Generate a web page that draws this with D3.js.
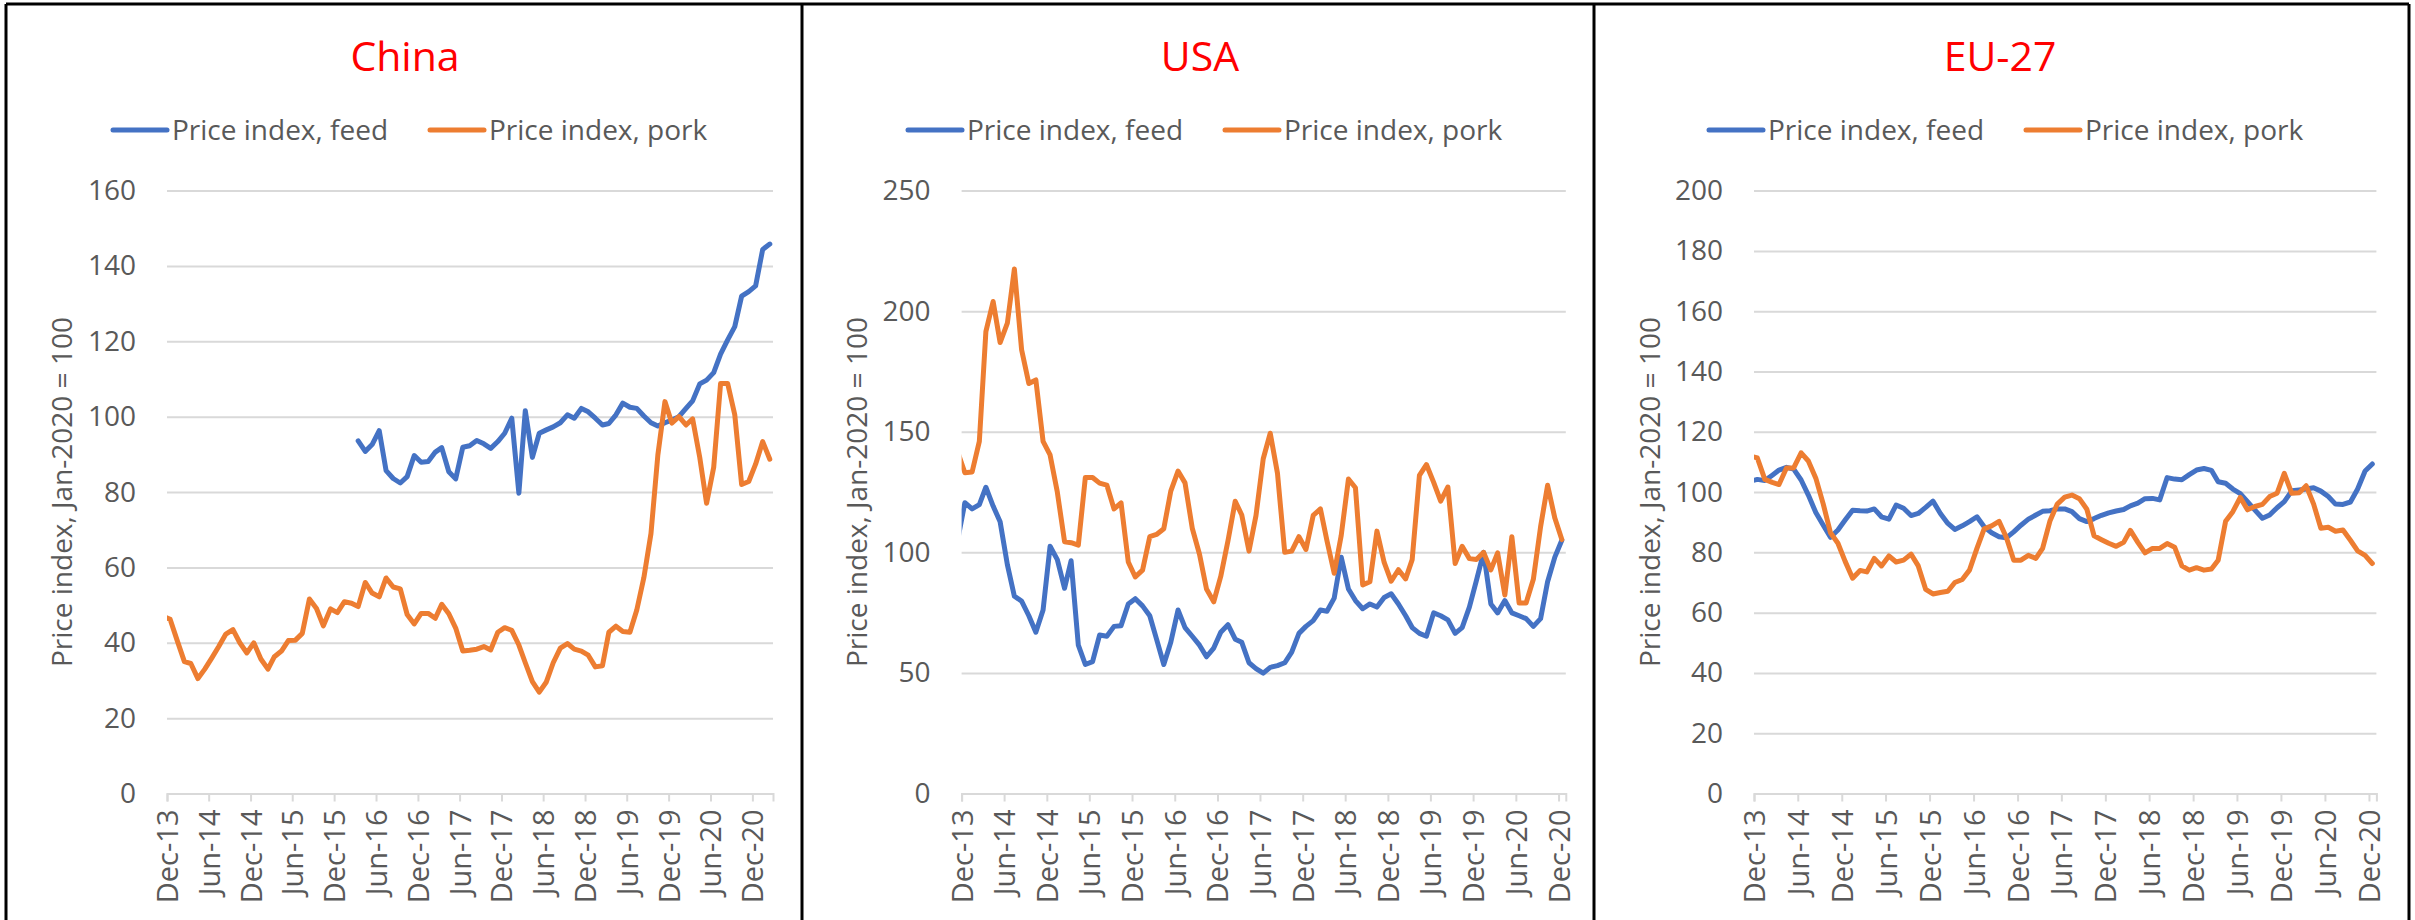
<!DOCTYPE html>
<html><head><meta charset="utf-8">
<script src="https://cdn.jsdelivr.net/npm/d3@7"></script>
<style>
body{margin:0;background:#fff;}
svg{display:block;font-family:"Open Sans","Noto Sans",sans-serif;}
</style></head><body>
<svg id="chart" width="2415" height="920"></svg>
<script>
// ---------- DATA ----------
const tickLabels = ["Dec-13","Jun-14","Dec-14","Jun-15","Dec-15","Jun-16","Dec-16","Jun-17","Dec-17","Jun-18","Dec-18","Jun-19","Dec-19","Jun-20","Dec-20"];
const seriesNames = ["Price index, feed", "Price index, pork"];
const panelTitles = ["China", "USA", "EU-27"];
const yAxisTitle = "Price index, Jan-2020 = 100";

const chinaYTicks = [0,20,40,60,80,100,120,140,160];
const usaYTicks = [0,50,100,150,200,250];
const euYTicks = [0,20,40,60,80,100,120,140,160,180,200];

// monthly categories: first month of each series, and the month where the x axis ends
const chinaPorkStart = "2013-11", chinaFeedStart = "2016-03", chinaAxisEnd = "2021-03";
const usaStart = "2013-11", usaAxisEnd = "2021-01";
const euStart = "2013-11", euAxisEnd = "2021-01";

const chinaPork = [47,46.2,40.5,35,34.5,30.5,33,36,39,42.3,43.5,
  40,37.3,40,35.7,33,36.3,37.8,40.6,40.7,42.5,
  51.6,49.1,44.5,49,48,50.9,50.5,49.6,56,53.2,
  52.2,57.2,54.8,54.3,47.5,45,47.8,47.8,46.5,50.2,
  47.7,43.9,37.8,38,38.3,39,38.1,42.8,44,43.3,
  39.4,34.7,29.7,26.9,29.6,34.7,38.6,39.8,38.3,37.8,
  36.7,33.6,33.9,42.8,44.4,43,42.8,48.7,57.3,69,
  89.8,104,98.3,100,97.8,99.4,89.2,77,86.6,108.8,
  108.8,100.5,82,82.8,87.4,93.4,88.7];
const chinaFeed = [93.6,90.8,92.6,96.3,85.7,83.6,82.4,84.1,89.7,87.9,
  88.1,90.6,91.8,85.4,83.5,91.9,92.3,93.7,92.8,91.6,
  93.4,95.6,99.6,79.7,101.6,89.2,95.6,96.5,97.3,98.4,
  100.5,99.6,102.2,101.3,99.6,97.8,98.2,100.5,103.6,102.5,
  102.2,100.2,98.4,97.5,98.4,99.1,100,102.2,104.2,108.7,
  109.7,111.7,116.6,120.4,123.9,132,133.2,134.7,144.4,145.8];

const usaFeed = [105.5,
  120.6,118,119.8,127,119.2,112.7,94.9,81.8,79.8,73.7,
  66.9,76.1,102.5,97,85.1,96.5,61.5,53.5,54.7,65.7,
  65.2,69.3,69.6,78.6,80.8,77.8,73.7,64,53.5,62.7,
  76.1,68.8,65.2,61.5,56.7,60.3,66.9,70,64,62.7,
  54.2,51.8,49.9,52.3,53,54.2,58.6,66.4,69.3,71.7,
  76.1,75.6,81,98,84.8,80,76.6,78.6,77.3,81.3,
  82.8,78.6,73.7,68.8,66.4,65.2,74.9,73.7,72,66.4,
  68.8,77.3,88.3,100,78.6,74.9,80,74.9,73.7,72.5,
  69.3,72.5,87.8,98,105];
const usaPork = [141.5,
  133,133.3,146,191.5,204,187,195,217.5,184,170,
  171.5,146,140.4,125,104.4,104,103,131,131,128.7,
  127.9,118,120.5,96,89.8,92.6,106.5,107.4,109.8,125.4,
  133.7,128.8,110,99.2,84.8,79.5,90,104.8,121.2,115.5,
  100.5,115.3,138.8,149.4,132.8,100,100.5,106.5,101.2,115.3,
  118,104.8,91.3,107,130.4,126.8,86.5,87.8,108.8,95.8,
  88,92.8,89,97,131.9,136.4,129,121.2,127.1,95.4,
  102.5,97.4,97,100,92.7,99.8,82.3,106.5,79,79,
  88.8,110.6,127.8,114.2,105.3];

const euFeed = [103.6,
  104.2,103.8,105.6,107.3,108.2,107.6,104,99,93.2,89,
  85,87.4,90.7,94,93.8,93.7,94.4,91.8,91,95.7,
  94.6,92.2,92.9,94.9,97,92.9,89.6,87.6,88.8,90.2,
  91.8,88.5,86.5,85.2,84.8,86.8,89,91,92.4,93.6,
  93.8,94.4,94.4,93.5,91.2,90.2,91.2,92.3,93.1,93.7,
  94.2,95.4,96.3,97.8,97.9,97.4,104.8,104.3,104.1,105.8,
  107.3,107.8,107.2,103.4,102.9,101,99.5,96.8,94,91.3,
  92.4,94.8,96.8,100.4,100.7,101,101.4,100.3,98.5,96,
  95.9,96.7,101,107,109.3];
const euPork = [112,
  111.3,104.2,103.2,102.5,108,108,113,110.3,104.6,96,
  86.5,83,77,71.4,74,73.5,78,75.5,78.8,76.8,
  77.4,79.4,75.5,67.7,66.2,66.7,67.1,70,71,74.1,
  81.3,87.8,88.8,90.3,85,77.4,77.4,79,78,81.3,
  90.5,96,98.3,99,97.8,94.3,85.5,84.2,83,82,
  83.3,87.3,83.3,79.8,81.3,81.3,82.9,81.7,75.5,74.1,
  74.9,74.1,74.5,77.4,90.3,93.5,98.2,94.1,95.2,95.9,
  98.5,99.6,106.2,99.6,99.8,102.1,96,88,88.3,87,
  87.4,84,80.5,79,76.3];

// ---------- LAYOUT / STYLE ----------
const COLORS = {feed:"#4472C4", pork:"#ED7D31", text:"#595959", grid:"#D9D9D9", title:"#FF0000"};
const plotTop = 190.6, plotBottom = 793.5;

const panels = [
  {title:panelTitles[0], yTicks:chinaYTicks, feed:chinaFeed, feedStart:chinaFeedStart, pork:chinaPork, porkStart:chinaPorkStart, axisEnd:chinaAxisEnd,
   left:167, right:773, cx:405, legendX:113, axisTitleX:62},
  {title:panelTitles[1], yTicks:usaYTicks, feed:usaFeed, feedStart:usaStart, pork:usaPork, porkStart:usaStart, axisEnd:usaAxisEnd,
   left:961.6, right:1565.8, cx:1200, legendX:908, axisTitleX:857},
  {title:panelTitles[2], yTicks:euYTicks, feed:euFeed, feedStart:euStart, pork:euPork, porkStart:euStart, axisEnd:euAxisEnd,
   left:1754, right:2376.4, cx:2000, legendX:1709, axisTitleX:1650}
];

const svg = d3.select("#chart");
svg.append("rect").attr("width",2415).attr("height",920).attr("fill","#fff");

const parseMonth = d3.timeParse("%Y-%m");
const parseTick = d3.timeParse("%b-%y");
const tickDates = tickLabels.map(parseTick);

function toPoints(start, values){
  const s = parseMonth(start);
  return values.map((v,k)=>({date:new Date(s.getFullYear(), s.getMonth()+k, 15), value:v}));
}

panels.forEach((p, pi) => {
  const g = svg.append("g");
  const x = d3.scaleTime().domain([tickDates[0], parseMonth(p.axisEnd)]).range([p.left, p.right]);
  const y = d3.scaleLinear().domain([0, d3.max(p.yTicks)]).range([plotBottom, plotTop]);

  // title
  g.append("text").attr("x", p.cx).attr("y", 71).attr("text-anchor","middle")
    .attr("font-size", 41).attr("fill", COLORS.title).text(p.title);

  // legend
  const items = [{name:seriesNames[0], color:COLORS.feed},{name:seriesNames[1], color:COLORS.pork}];
  items.forEach((it, k) => {
    const lx = p.legendX + k*317;
    g.append("line").attr("x1", lx).attr("x2", lx+54).attr("y1",130).attr("y2",130)
      .attr("stroke", it.color).attr("stroke-width",5).attr("stroke-linecap","round");
    g.append("text").attr("x", lx+59).attr("y",130).attr("dy","0.35em")
      .attr("font-size",28).attr("fill",COLORS.text).text(it.name);
  });

  // gridlines + y labels
  const yAxis = d3.axisLeft(y).tickValues(p.yTicks).tickSize(-(p.right-p.left));
  const ya = g.append("g").attr("transform",`translate(${p.left},0)`).call(yAxis);
  ya.select(".domain").remove();
  ya.selectAll(".tick line").attr("stroke",COLORS.grid).attr("stroke-width",2);
  ya.selectAll(".tick text").attr("font-size",28).attr("fill",COLORS.text)
    .attr("font-family",'"Open Sans","Noto Sans",sans-serif').attr("x",-31);

  // x axis
  const xAxis = d3.axisBottom(x).tickValues(tickDates).tickFormat((d,i)=>tickLabels[i]).tickSize(8);
  const xa = g.append("g").attr("transform",`translate(0,${plotBottom})`).call(xAxis);
  xa.select(".domain").attr("stroke",COLORS.grid).attr("stroke-width",2);
  xa.selectAll(".tick line").attr("stroke",COLORS.grid).attr("stroke-width",2);
  xa.selectAll(".tick text").attr("font-size",29).attr("fill",COLORS.text)
    .attr("font-family",'"Open Sans","Noto Sans",sans-serif')
    .attr("transform","rotate(-90)").attr("text-anchor","end")
    .attr("x",-16).attr("y",0).attr("dy","0.36em");

  // y axis title
  g.append("text").attr("transform",`translate(${p.axisTitleX},${(plotTop+plotBottom)/2}) rotate(-90)`)
    .attr("text-anchor","middle").attr("dy","0.35em").attr("font-size",28).attr("fill",COLORS.text).text(yAxisTitle);

  // clip
  const clipId = "clip"+pi;
  g.append("clipPath").attr("id",clipId).append("rect")
    .attr("x",p.left).attr("y",0).attr("width",p.right-p.left).attr("height",920);

  const line = d3.line().defined(d=>d.value!=null).x(d=>x(d.date)).y(d=>y(d.value));
  const lines = g.append("g").attr("clip-path",`url(#${clipId})`);
  [[toPoints(p.feedStart,p.feed),COLORS.feed],[toPoints(p.porkStart,p.pork),COLORS.pork]].forEach(([pts,c])=>{
    lines.append("path").datum(pts).attr("d",line).attr("fill","none").attr("stroke",c)
      .attr("stroke-width",5).attr("stroke-linejoin","round").attr("stroke-linecap","round");
  });
});

// panel borders
const border = svg.append("g").attr("stroke","#000").attr("stroke-width",3);
border.append("line").attr("x1",6).attr("x2",2409).attr("y1",4).attr("y2",4);
[6, 802, 1594, 2409].forEach(bx => {
  border.append("line").attr("x1",bx).attr("x2",bx).attr("y1",4).attr("y2",920);
});
</script>
</body></html>
